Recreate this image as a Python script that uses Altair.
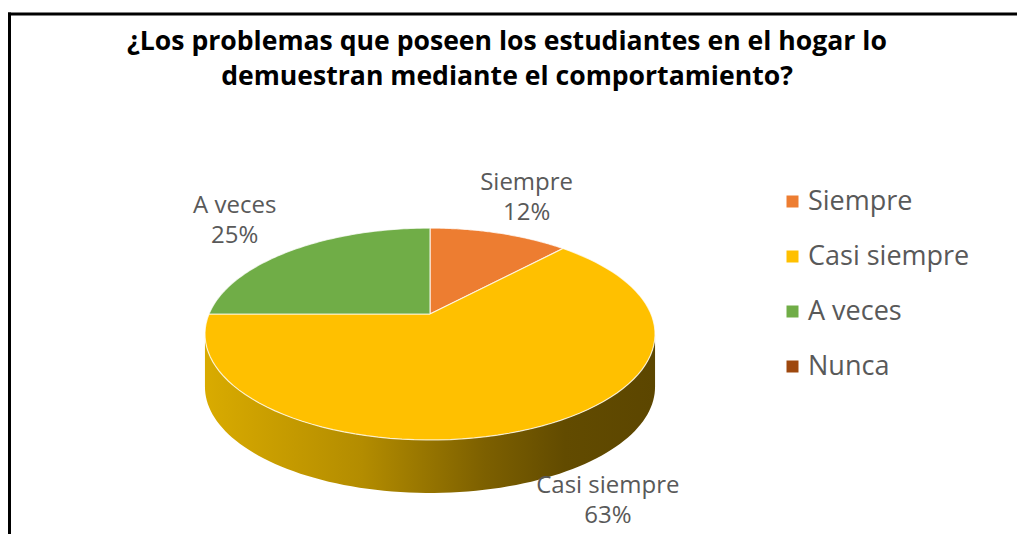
import math
import altair as alt
import pandas as pd

# ---- data ----
CATS = ["Siempre", "Casi siempre", "A veces", "Nunca"]
VALUES = [12, 63, 25, 0]
COLORS = ["#ED7D31", "#FFC000", "#70AD47", "#9E480E"]
TITLE_LINES = [
    "¿Los problemas que poseen los estudiantes en el hogar lo",
    "demuestran mediante el comportamiento?",
]

# ---- geometry / style ----
W, H = 1009, 526
CX, CY = 422, 306          # pie centre (px inside view)
A, B = 221, 102.2          # px per unit (x, y)
K = 0.1887                 # perspective factor
DEPTH = 53 / B             # thickness of the 3D pie in y units
N = 90                     # points per slice rim
R_LAB = 1.5                # label radius factor
PHI_R = math.pi / 2 + math.asin(K)
PHI_L = 3 * math.pi / 2 - math.asin(K)

df = pd.DataFrame({"cat": CATS, "val": VALUES, "idx": list(range(len(CATS)))})

xs = alt.Scale(domain=[-CX / A, (W - CX) / A], nice=False, zero=False)
ys = alt.Scale(domain=[-(H - CY) / B, CY / B], nice=False, zero=False)


def base():
    return (
        alt.Chart(df)
        .transform_window(cum="sum(val)", sort=[alt.SortField("idx")], frame=[None, 0])
        .transform_joinaggregate(total="sum(val)")
        .transform_calculate(
            a0="2*PI*(datum.cum-datum.val)/datum.total",
            a1="2*PI*datum.cum/datum.total",
        )
        .transform_filter("datum.val > 0")
    )


# side (thickness) of the pie, only the front-visible part of each slice
side = (
    base()
    .transform_calculate(lo=f"max(datum.a0, {PHI_R})", hi=f"min(datum.a1, {PHI_L})")
    .transform_filter("datum.lo < datum.hi")
    .transform_calculate(k=f"sequence(0, {2 * N})")
    .transform_flatten(["k"])
    .transform_calculate(
        bot=f"datum.k >= {N}",
        t=f"datum.k < {N} ? datum.lo + (datum.hi-datum.lo)*datum.k/{N - 1} : "
          f"datum.hi - (datum.hi-datum.lo)*(datum.k-{N})/{N - 1}",
    )
    .transform_calculate(w=f"1 + {K}*cos(datum.t)")
    .transform_calculate(
        px="sin(datum.t)/datum.w",
        py=f"cos(datum.t)/datum.w - (datum.bot ? {DEPTH} : 0)",
    )
    .mark_line(
        fill=alt.Gradient(
            gradient="linear",
            x1=0, x2=1, y1=0, y2=0,
            stops=[
                alt.GradientStop(offset=0, color="#D9AB00"),
                alt.GradientStop(offset=0.35, color="#B38C00"),
                alt.GradientStop(offset=0.62, color="#7D6000"),
                alt.GradientStop(offset=0.8, color="#624B00"),
                alt.GradientStop(offset=1, color="#5C4600"),
            ],
        ),
        strokeOpacity=0,
    )
    .encode(
        x=alt.X("px:Q", scale=xs, axis=None),
        y=alt.Y("py:Q", scale=ys, axis=None),
        order=alt.Order("k:Q"),
    )
)

# top faces
top = (
    base()
    .transform_calculate(k=f"sequence(0, {N + 2})")
    .transform_flatten(["k"])
    .transform_calculate(
        rim=f"datum.k > 0 && datum.k <= {N}",
        t=f"datum.a0 + (datum.a1 - datum.a0) * (datum.k - 1) / {N - 1}",
    )
    .transform_calculate(w=f"1 + {K}*cos(datum.t)")
    .transform_calculate(
        px="datum.rim ? sin(datum.t)/datum.w : 0",
        py="datum.rim ? cos(datum.t)/datum.w : 0",
    )
    .mark_line(strokeWidth=1.2, stroke="white", strokeOpacity=0.75)
    .encode(
        x=alt.X("px:Q", scale=xs, axis=None),
        y=alt.Y("py:Q", scale=ys, axis=None),
        fill=alt.Fill(
            "cat:N",
            sort=CATS,
            scale=alt.Scale(domain=CATS, range=COLORS),
            legend=alt.Legend(
                title=None,
                orient="none",
                legendX=771,
                legendY=180,
                symbolType="square",
                symbolSize=144,
                symbolStrokeWidth=0,
                symbolOpacity=1,
                labelFont="Open Sans",
                labelFontSize=27,
                labelColor="#595959",
                labelOffset=2,
                labelLimit=400,
                rowPadding=27,
                padding=0,
            ),
        ),
        detail="cat:N",
        order=alt.Order("k:Q"),
    )
)

# data labels
labels = (
    base()
    .transform_calculate(tm="(datum.a0+datum.a1)/2")
    .transform_calculate(w=f"1 + {K}*{R_LAB}*cos(datum.tm)")
    .transform_calculate(
        px=f"{R_LAB}*sin(datum.tm)/datum.w",
        py=f"{R_LAB}*cos(datum.tm)/datum.w",
        lab="datum.cat + '\\n' + format(datum.val/datum.total, '.0%')",
    )
    .mark_text(
        font="Open Sans",
        fontSize=24,
        color="#595959",
        lineBreak="\n",
        lineHeight=30,
        align="center",
        baseline="middle",
        dy=-18,
    )
    .encode(
        x=alt.X("px:Q", scale=xs, axis=None),
        y=alt.Y("py:Q", scale=ys, axis=None),
        text="lab:N",
    )
)

one = pd.DataFrame({"t": [0]})

title = (
    alt.Chart(one)
    .mark_text(
        font="Open Sans",
        fontWeight="bold",
        fontSize=26.6,
        color="black",
        align="center",
        baseline="alphabetic",
        lineHeight=35,
    )
    .encode(x=alt.value(499), y=alt.value(42), text=alt.value(TITLE_LINES))
)

border_top = (
    alt.Chart(one)
    .mark_rule(color="black", strokeWidth=3)
    .encode(x=alt.value(0), x2=alt.value(W), y=alt.value(6))
)
border_left = (
    alt.Chart(one)
    .mark_rule(color="black", strokeWidth=3)
    .encode(x=alt.value(1.5), y=alt.value(4.5), y2=alt.value(H))
)

chart = (
    alt.layer(border_top, border_left, side, top, labels, title)
    .properties(width=W, height=H, autosize=alt.AutoSizeParams(type="none"), padding=0)
    .configure_view(stroke=None)
)

chart.save("out.html", embed_options={"renderer": "svg", "actions": False})
